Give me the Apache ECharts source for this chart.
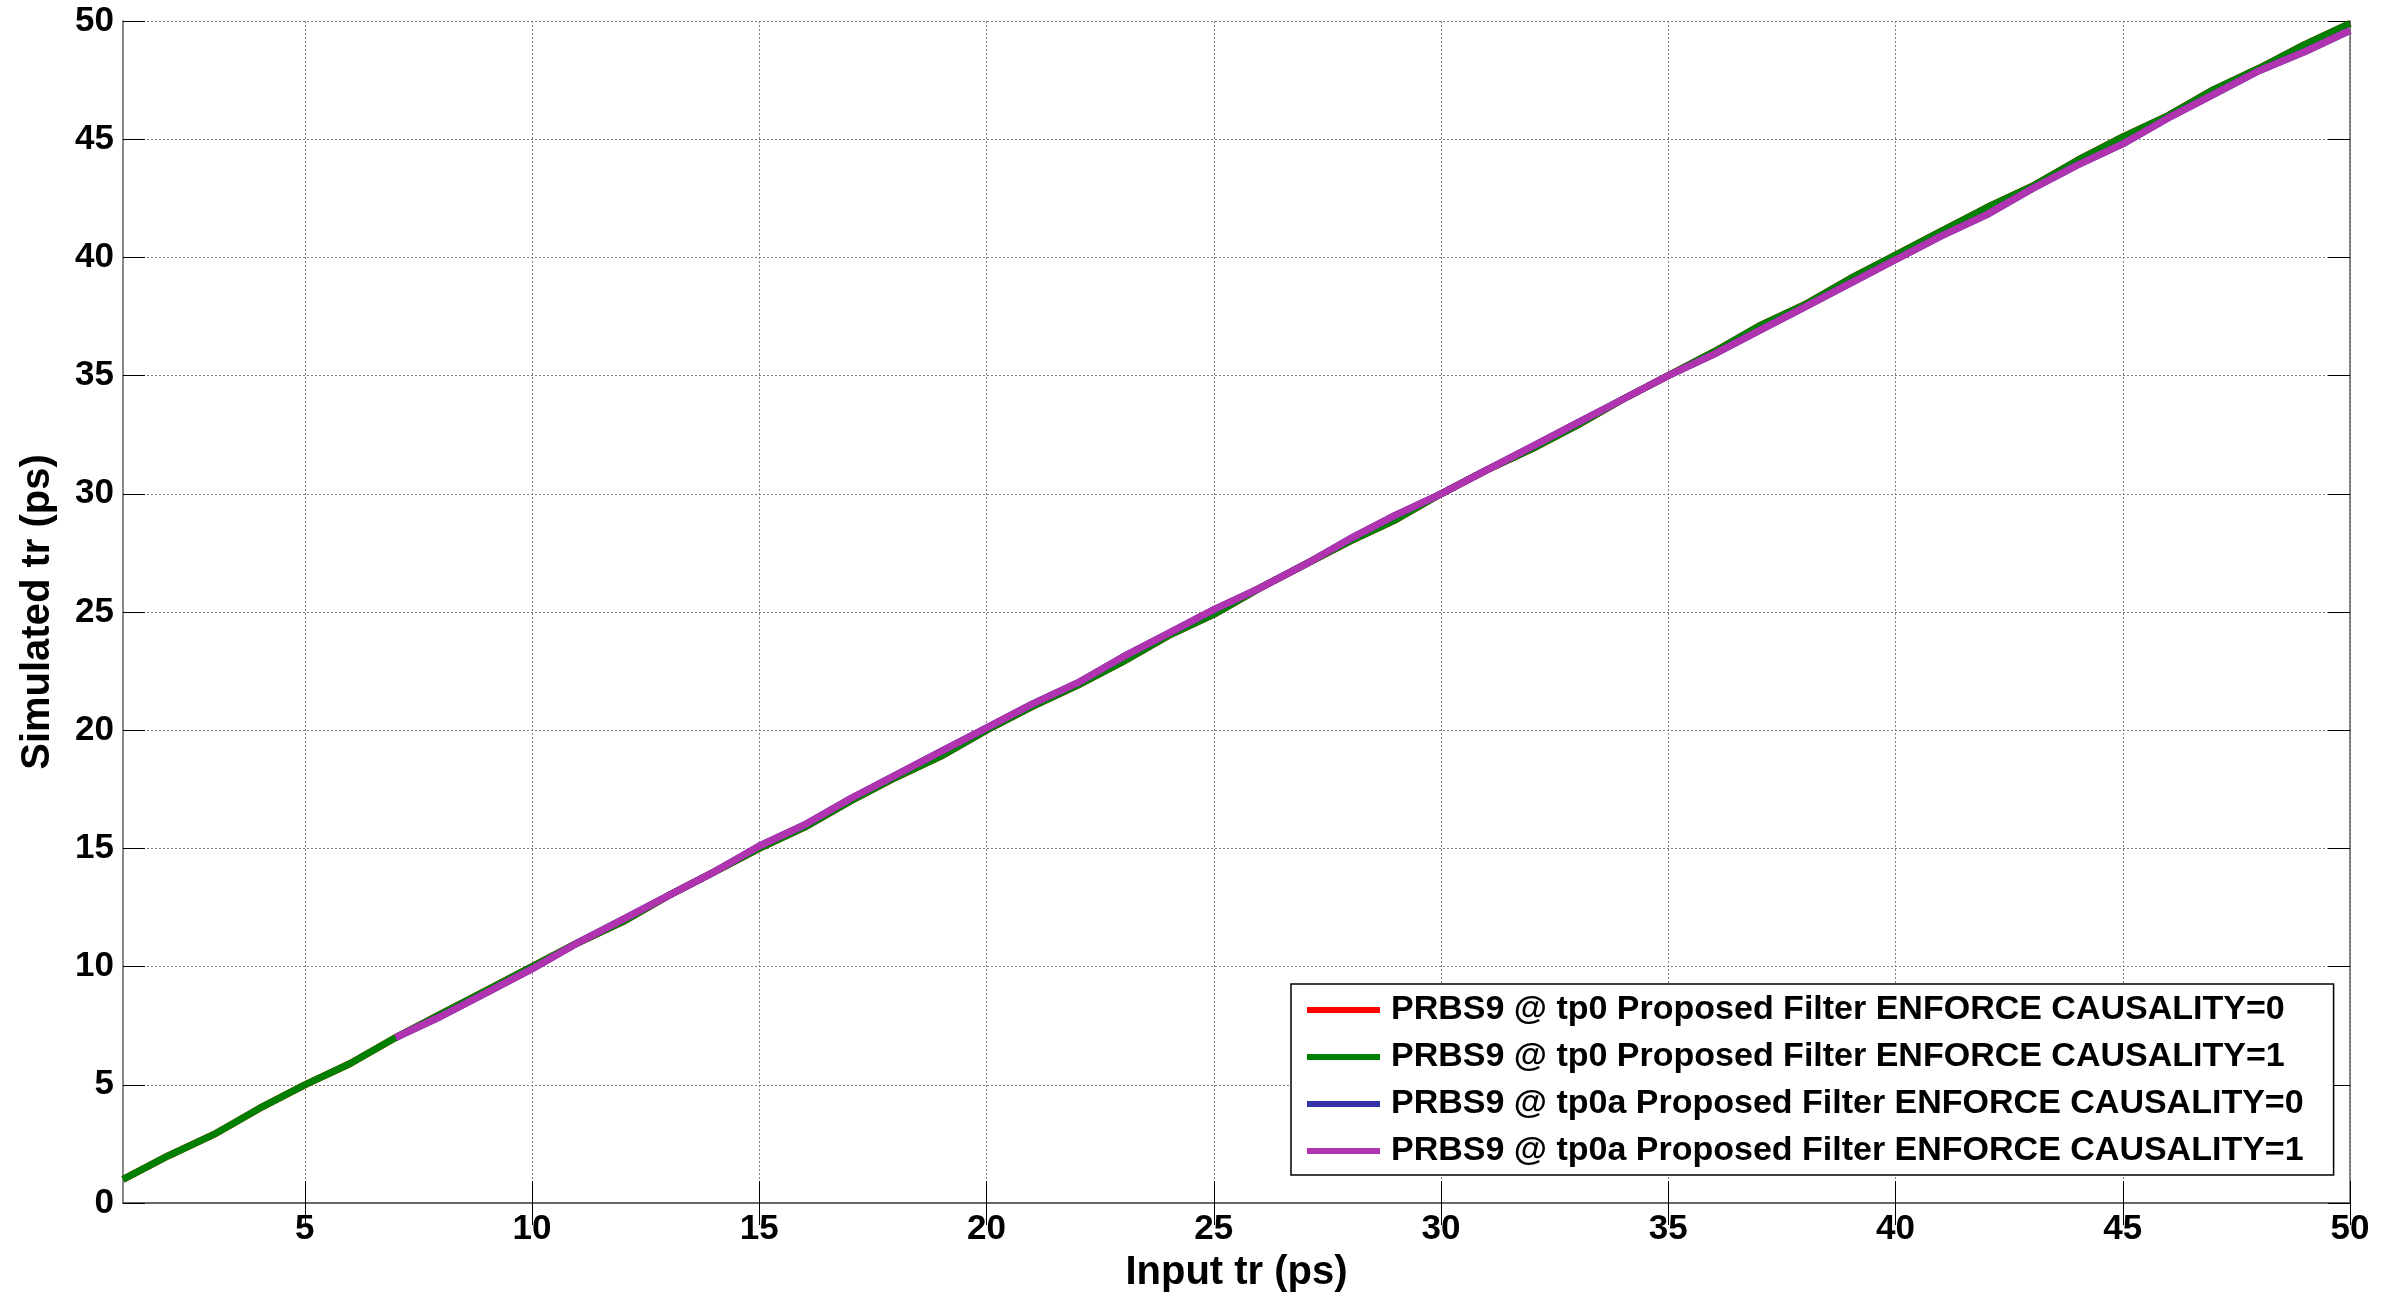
<!DOCTYPE html>
<html>
<head>
<meta charset="utf-8">
<script src="https://cdn.jsdelivr.net/npm/echarts@6/dist/echarts.min.js"></script>
<style>
html,body{margin:0;padding:0;background:#fff;}
#chart{width:2388px;height:1298px;}
</style>
</head>
<body>
<div id="chart"></div>
<script>
// ---- Data ----
const inputTr = [1,2,3,4,5,6,7,8,9,10,11,12,13,14,15,16,17,18,19,20,21,22,23,24,25,26,27,28,29,30,31,32,33,34,35,36,37,38,39,40,41,42,43,44,45,46,47,48,49,50];
const tp0Causality0 = [1.0,2.0,2.9,4.0,5.0,5.9,7.0,8.0,9.0,10.0,11.0,11.9,13.0,14.0,15.0,15.9,17.0,18.0,18.9,20.0,21.0,21.9,22.9,24.0,24.9,26.0,27.0,28.0,28.9,30.0,31.0,31.9,32.9,34.0,35.0,36.0,37.1,38.0,39.1,40.1,41.1,42.1,43.0,44.1,45.1,46.0,47.1,48.0,49.0,49.9];
const tp0Causality1 = [1.0,2.0,2.9,4.0,5.0,5.9,7.0,8.0,9.0,10.0,11.0,11.9,13.0,14.0,15.0,15.9,17.0,18.0,18.9,20.0,21.0,21.9,22.9,24.0,24.9,26.0,27.0,28.0,28.9,30.0,31.0,31.9,32.9,34.0,35.0,36.0,37.1,38.0,39.1,40.1,41.1,42.1,43.0,44.1,45.1,46.0,47.1,48.0,49.0,49.9];
const tp0aInput = [7,8,9,10,11,12,13,14,15,16,17,18,19,20,21,22,23,24,25,26,27,28,29,30,31,32,33,34,35,36,37,38,39,40,41,42,43,44,45,46,47,48,49,50];
const tp0aCausality0 = [7.0,7.9,8.9,9.9,11.0,12.0,13.0,14.0,15.1,16.0,17.1,18.1,19.1,20.1,21.1,22.0,23.1,24.1,25.1,26.0,27.0,28.1,29.1,30.0,31.0,32.0,33.0,34.0,35.0,35.9,36.9,37.9,38.9,39.9,40.9,41.8,42.9,43.9,44.8,45.9,46.9,47.9,48.7,49.6];
const tp0aCausality1 = [7.0,7.9,8.9,9.9,11.0,12.0,13.0,14.0,15.1,16.0,17.1,18.1,19.1,20.1,21.1,22.0,23.1,24.1,25.1,26.0,27.0,28.1,29.1,30.0,31.0,32.0,33.0,34.0,35.0,35.9,36.9,37.9,38.9,39.9,40.9,41.8,42.9,43.9,44.8,45.9,46.9,47.9,48.7,49.6];
const seriesNames = [
  'PRBS9 @ tp0 Proposed Filter ENFORCE CAUSALITY=0',
  'PRBS9 @ tp0 Proposed Filter ENFORCE CAUSALITY=1',
  'PRBS9 @ tp0a Proposed Filter ENFORCE CAUSALITY=0',
  'PRBS9 @ tp0a Proposed Filter ENFORCE CAUSALITY=1'
];
const xTicks = [5,10,15,20,25,30,35,40,45,50];
const yTicks = [0,5,10,15,20,25,30,35,40,45,50];
const xLabel = 'Input tr (ps)';
const yLabel = 'Simulated tr (ps)';

// ---- Build ----
const colors = ['#ff0000','#008000','#3434a8','#b034b0'];
function pairs(xs, ys){ return xs.map((x,i)=>[x, ys[i]]); }
const seriesData = [
  pairs(inputTr, tp0Causality0),
  pairs(inputTr, tp0Causality1),
  pairs(tp0aInput, tp0aCausality0),
  pairs(tp0aInput, tp0aCausality1)
];
const FONT = '"Liberation Sans", Arial, sans-serif';
const gridLine = {show:true, lineStyle:{color:'#808080', width:1, type:[2,2]}};
const tickIn = (vals)=>({show:true, inside:true, length:22, customValues: vals, lineStyle:{color:'#000', width:1}});
const axisLine = {show:true, lineStyle:{color:'#606060', width:1.5}};

const chart = echarts.init(document.getElementById('chart'), null, {renderer:'canvas'});
chart.setOption({
  backgroundColor:'#ffffff',
  animation:false,
  grid:{left:123, right:38, top:21, bottom:95, containLabel:false},
  legend:{
    orient:'vertical', left:1291, top:984,
    data: seriesNames,
    icon:'rect', itemWidth:73, itemHeight:6, itemGap:13,
    backgroundColor:'#ffffff', borderColor:'#000', borderWidth:1.5, borderRadius:0,
    padding:[9,30,7,16],
    textStyle:{fontFamily:FONT, fontWeight:'bold', fontSize:34, color:'#000', padding:[0,0,0,6]},
    selectedMode:false
  },
  xAxis:[{
    type:'value', min:1, max:50, position:'bottom',
    name:xLabel, nameLocation:'middle', nameGap:50,
    nameTextStyle:{fontFamily:FONT, fontWeight:'bold', fontSize:40, color:'#000'},
    axisLine:axisLine,
    axisTick:tickIn(xTicks),
    axisLabel:{customValues:xTicks, fontFamily:FONT, fontWeight:'bold', fontSize:35, color:'#000', margin:9},
    splitLine:gridLine
  },{
    type:'value', min:1, max:50, position:'top',
    axisLine:axisLine,
    axisTick:tickIn(xTicks),
    axisLabel:{show:false, customValues:xTicks},
    splitLine:{show:false}
  }],
  yAxis:[{
    type:'value', min:0, max:50, interval:5, position:'left',
    name:yLabel, nameLocation:'middle', nameGap:65,
    nameTextStyle:{fontFamily:FONT, fontWeight:'bold', fontSize:40, color:'#000'},
    axisLine:axisLine,
    axisTick:{show:true, inside:true, length:22, lineStyle:{color:'#000', width:1}},
    axisLabel:{fontFamily:FONT, fontWeight:'bold', fontSize:35, color:'#000', margin:9},
    splitLine:gridLine
  },{
    type:'value', min:0, max:50, interval:5, position:'right',
    axisLine:axisLine,
    axisTick:{show:true, inside:true, length:22, lineStyle:{color:'#000', width:1}},
    axisLabel:{show:false},
    splitLine:{show:false}
  }],
  series: seriesNames.map((n,i)=>({
    name:n, type:'line', xAxisIndex:0, yAxisIndex:0,
    data: seriesData[i],
    showSymbol:false, symbol:'none',
    lineStyle:{color:colors[i], width:7},
    itemStyle:{color:colors[i]},
    z: 2+i
  }))
});
</script>
</body>
</html>
